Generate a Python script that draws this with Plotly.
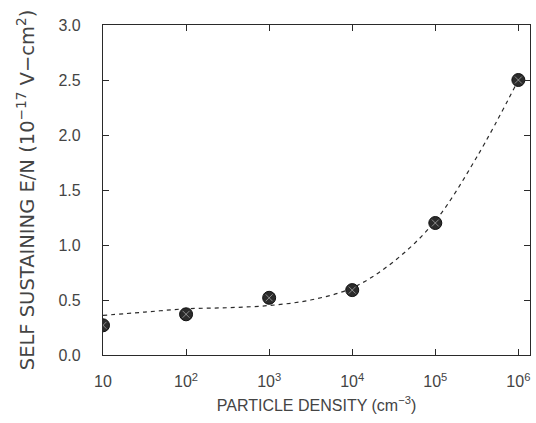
import plotly.graph_objects as go

# measured points
density = [1e1, 1e2, 1e3, 1e4, 1e5, 1e6]
en_values = [0.27, 0.37, 0.52, 0.59, 1.20, 2.50]

# dashed fit curve at half-decade steps
curve_x = [1e1, 10**1.5, 1e2, 10**2.5, 1e3, 10**3.5, 1e4, 10**4.5, 1e5, 10**5.5, 1e6]
curve_y = [0.36, 0.39, 0.42, 0.43, 0.45, 0.50, 0.61, 0.85, 1.22, 1.80, 2.50]

x_tickvals = [1e1, 1e2, 1e3, 1e4, 1e5, 1e6]
x_ticktext = ["10", "10<sup>2</sup>", "10<sup>3</sup>", "10<sup>4</sup>", "10<sup>5</sup>", "10<sup>6</sup>"]
y_tickvals = [0.0, 0.5, 1.0, 1.5, 2.0, 2.5, 3.0]
y_ticktext = ["0.0", "0.5", "1.0", "1.5", "2.0", "2.5", "3.0"]

ink = "#2a2a2a"
text_col = "#444444"
font_fam = "Liberation Sans, Arial, sans-serif"
wide_fam = "DejaVu Sans, Verdana, sans-serif"

fig = go.Figure()
fig.add_trace(go.Scatter(
    x=curve_x, y=curve_y, mode="lines", line_shape="spline",
    line=dict(color=ink, width=1.2, dash="4px,4px"), hoverinfo="skip",
))
fig.add_trace(go.Scatter(
    x=density, y=en_values, mode="markers",
    marker=dict(symbol="circle", size=13, color="#2b2b2b",
                line=dict(color="#111111", width=1)),
))
fig.add_trace(go.Scatter(
    x=density, y=en_values, mode="markers",
    marker=dict(symbol="x-thin", size=7, color="rgba(0,0,0,0)",
                line=dict(color="rgba(255,255,255,0.45)", width=1)),
    hoverinfo="skip",
))

axis_common = dict(
    showgrid=False, zeroline=False, showline=True, linecolor=ink, linewidth=1.2,
    mirror="ticks", ticks="inside", ticklen=6, tickcolor=ink, tickwidth=1,
    tickfont=dict(family=font_fam, size=16, color=text_col),
)

fig.update_layout(
    width=536, height=423,
    margin=dict(l=103, r=6, t=25, b=68),
    paper_bgcolor="white", plot_bgcolor="white",
    showlegend=False,
    xaxis=dict(
        type="log", range=[1, 6.14],
        tickvals=x_tickvals, ticktext=x_ticktext,
        ticklabelstandoff=12,
        title=dict(text="PARTICLE DENSITY (cm<sup>\u22123</sup>)", standoff=10,
                   font=dict(family=font_fam, size=16, color=text_col)),
        **axis_common,
    ),
    yaxis=dict(
        range=[0, 3.0],
        tickvals=y_tickvals, ticktext=y_ticktext,
        ticklabelstandoff=18,
        title=dict(text="SELF SUSTAINING E/N (10<sup>\u221217</sup> V\u2212cm<sup>2</sup>)", standoff=18,
                   font=dict(family=wide_fam, size=19.5, color=text_col)),
        **axis_common,
    ),
)

fig.write_html("out.html")
